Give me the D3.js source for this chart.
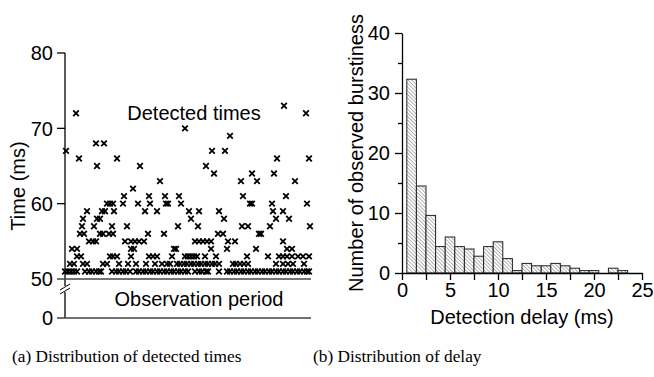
<!DOCTYPE html>
<html>
<head>
<meta charset="utf-8">
<script src="https://cdn.jsdelivr.net/npm/d3@7"></script>
<style>
  body { margin: 0; background: #fff; }
  svg { display: block; font-family: "Liberation Sans", Arial, sans-serif; }
</style>
</head>
<body>
<svg id="fig" width="654" height="377"></svg>
<script>
// (a) detected times: position inside the observation period, one list per ms level
const at51 = [0, 3, 6, 9, 12, 20, 24, 27, 31, 34, 36, 47, 51, 54, 58, 61, 65, 71, 74, 78, 81, 85, 88, 92, 95, 99, 102, 106, 109, 113, 116, 120, 123, 130, 134, 137, 141, 143, 154, 162, 165, 169, 172, 176, 179, 183, 186, 190, 193, 197, 200, 204, 207, 211, 214, 218, 221, 225, 228, 232, 235, 239, 242, 244];
const at52 = [5, 9, 18, 22, 38, 42, 54, 63, 71, 81, 90, 97, 102, 105, 112, 115, 119, 122, 126, 129, 133, 136, 140, 143, 147, 150, 154, 168, 171, 175, 179, 183, 211, 218, 223, 228, 239];
const at53 = [12, 16, 45, 48, 52, 66, 84, 88, 92, 107, 120, 123, 126, 129, 132, 140, 151, 182, 203, 214, 218, 222, 227, 233, 238, 244];
const at54 = [7, 12, 66, 69, 109, 111, 146, 162, 191, 222, 227];
const at55 = [24, 28, 31, 60, 66, 70, 74, 79, 130, 134, 138, 142, 146, 163, 170, 218];
const at56 = [15, 19, 35, 38, 44, 48, 83, 99, 153, 158, 194, 196];
const at57 = [17, 29, 47, 62, 113, 133, 177, 183, 205, 245];
const at58 = [18, 32, 35, 126, 159, 211, 224];
const at59 = [22, 37, 40, 49, 80, 92, 124, 134, 154, 208, 218];
const at60 = [42, 45, 48, 58, 73, 85, 101, 103, 116, 185, 187, 207, 242];
const at61 = [59, 84, 100, 114, 178, 221];
const at62 = [68];
const at63 = [95, 176, 192, 230];
const at64 = [149, 187, 209];
const at65 = [32, 75, 141];
const at66 = [14, 52, 212, 244];
const at67 = [1, 147, 160];
const at68 = [31, 39];
const at69 = [165];
const at70 = [120];
const at72 = [11, 241];
const at73 = [219];
const timeTicks = [80, 70, 60, 50, 0];

// (b) delay histogram
const delayBins = [1, 2, 3, 4, 5, 6, 7, 8, 9, 10, 11, 12, 13, 14, 15, 16, 17, 18, 19, 20, 21, 22, 23, 24];
const delayCounts = [32.3, 14.5, 9.6, 4.4, 6.0, 4.4, 4.0, 2.8, 4.4, 5.2, 2.4, 0.4, 1.6, 1.2, 1.2, 1.6, 1.2, 0.8, 0.4, 0.4, 0, 0.8, 0.4, 0];
const countTicks = [0, 10, 20, 30, 40];
const countMinor = [5, 15, 25, 35];
const delayTicks = [0, 2.5, 5, 7.5, 10, 12.5, 15, 17.5, 20, 22.5, 25];

const levels = [
  [51, at51], [52, at52], [53, at53], [54, at54], [55, at55], [56, at56],
  [57, at57], [58, at58], [59, at59], [60, at60], [61, at61], [62, at62],
  [63, at63], [64, at64], [65, at65], [66, at66], [67, at67], [68, at68],
  [69, at69], [70, at70], [72, at72], [73, at73]
];
const detected = levels.flatMap(([ms, xs]) => xs.map(x => ({ x, ms })));

const svg = d3.select("#fig");
const fs = 20;

// ---------- (a) ----------
const xA = d3.scaleLinear().domain([0, 246]).range([65, 311]);
const yA = d3.scaleLinear().domain([0, 50, 80]).range([318, 279, 53]); // broken axis

const gA = svg.append("g");
const brk = yA(50) + 10;

gA.append("line").attr("x1", xA(0)).attr("x2", xA(0))
  .attr("y1", yA(80)).attr("y2", brk - 3)
  .attr("stroke", "#000").attr("stroke-width", 1.3);
gA.append("line").attr("x1", xA(0)).attr("x2", xA(0))
  .attr("y1", brk + 3).attr("y2", yA(0))
  .attr("stroke", "#000").attr("stroke-width", 1.3);
gA.append("path")
  .attr("d", `M${xA(0) - 5},${brk + 1}L${xA(0) + 5},${brk - 5}M${xA(0) - 5},${brk + 5}L${xA(0) + 5},${brk - 1}`)
  .attr("stroke", "#000").attr("stroke-width", 1).attr("fill", "none");

timeTicks.forEach(t => {
  const full = t === 50 || t === 0;
  gA.append("line")
    .attr("x1", xA(0) - 8).attr("x2", full ? xA(246) : xA(0))
    .attr("y1", yA(t)).attr("y2", yA(t))
    .attr("stroke", full ? "#444" : "#000").attr("stroke-width", full ? 1.6 : 1.3);
  gA.append("text")
    .attr("x", xA(0) - 12).attr("y", yA(t)).attr("dy", "0.36em")
    .attr("text-anchor", "end").attr("font-size", fs).text(t);
});

gA.selectAll(".pt")
  .data(detected)
  .enter().append("path")
  .attr("class", "pt")
  .attr("transform", d => `translate(${xA(d.x)},${yA(d.ms)})`)
  .attr("d", "M-2.8,-2.8L2.8,2.8M-2.8,2.8L2.8,-2.8")
  .attr("stroke", "#000").attr("stroke-width", 1.8);

gA.append("text").attr("x", 194).attr("y", 120)
  .attr("text-anchor", "middle").attr("font-size", fs).text("Detected times");
gA.append("text").attr("x", 199).attr("y", 306)
  .attr("text-anchor", "middle").attr("font-size", fs).text("Observation period");
gA.append("text")
  .attr("transform", "translate(25,186) rotate(-90)")
  .attr("text-anchor", "middle").attr("font-size", fs).text("Time (ms)");

// ---------- (b) ----------
const xB = d3.scaleLinear().domain([0, 25]).range([402, 642]);
const yB = d3.scaleLinear().domain([0, 40]).range([273, 33]);

const pat = svg.append("defs").append("pattern")
  .attr("id", "hatch").attr("patternUnits", "userSpaceOnUse")
  .attr("width", 2.6).attr("height", 2.6)
  .attr("patternTransform", "rotate(-45)");
pat.append("rect").attr("width", 2.6).attr("height", 2.6).attr("fill", "#fff");
pat.append("line").attr("x1", 0).attr("x2", 0).attr("y1", 0).attr("y2", 2.6)
  .attr("stroke", "#777").attr("stroke-width", 1.1);

const gB = svg.append("g");
gB.selectAll(".bar")
  .data(delayBins.map((b, i) => ({ b, v: delayCounts[i] })))
  .enter().append("rect")
  .attr("class", "bar")
  .attr("x", d => xB(d.b - 0.5))
  .attr("width", xB(1) - xB(0))
  .attr("y", d => yB(d.v))
  .attr("height", d => yB(0) - yB(d.v))
  .attr("fill", "url(#hatch)")
  .attr("stroke", "#222").attr("stroke-width", 1);

const axL = gB.append("g").attr("transform", `translate(${xB(0)},0)`)
  .call(d3.axisLeft(yB).tickValues(countTicks).tickSize(7).tickSizeOuter(0).tickPadding(5));
gB.append("g").attr("transform", `translate(${xB(0)},0)`)
  .call(d3.axisLeft(yB).tickValues(countMinor).tickSize(4).tickSizeOuter(0).tickFormat(""))
  .select(".domain").remove();
const axB = gB.append("g").attr("transform", `translate(0,${yB(0)})`)
  .call(d3.axisBottom(xB).tickValues(delayTicks).tickSize(7).tickSizeOuter(0).tickPadding(3)
    .tickFormat(d => d % 5 === 0 ? d : ""));
gB.selectAll(".tick text").attr("font-size", fs).attr("font-family", null).attr("fill", "#000");
gB.selectAll(".domain, .tick line").attr("stroke", "#000").attr("stroke-width", 1.3);

gB.append("text").attr("x", 522).attr("y", 324)
  .attr("text-anchor", "middle").attr("font-size", fs).text("Detection delay (ms)");
gB.append("text")
  .attr("transform", "translate(363,153) rotate(-90)")
  .attr("text-anchor", "middle").attr("font-size", fs).text("Number of observed burstiness");

// captions
svg.append("text").attr("x", 12).attr("y", 362)
  .attr("font-family", "'Liberation Serif', 'Times New Roman', serif").attr("font-size", 17.3)
  .text("(a) Distribution of detected times");
svg.append("text").attr("x", 313).attr("y", 362)
  .attr("font-family", "'Liberation Serif', 'Times New Roman', serif").attr("font-size", 17.3)
  .text("(b) Distribution of delay");
</script>
</body>
</html>
